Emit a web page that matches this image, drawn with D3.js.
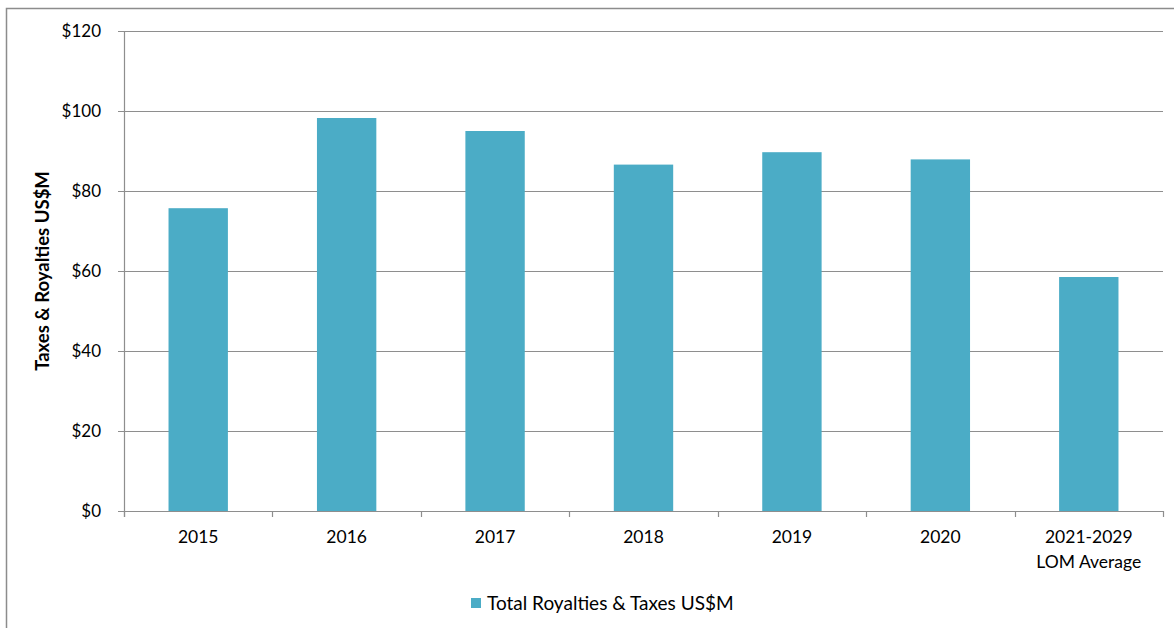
<!DOCTYPE html>
<html>
<head>
<meta charset="utf-8">
<script src="https://cdn.jsdelivr.net/npm/d3@7"></script>
<style>
  body { margin: 0; background: #fff; }
  svg { display: block; font-family: Lato, "Open Sans", sans-serif; }
</style>
</head>
<body>
<div class="chart"></div>
<script>
// chart data
const categories = ["2015", "2016", "2017", "2018", "2019", "2020", "2021-2029\nLOM Average"];
const royalties = [75.7, 98.25, 95, 86.6, 89.7, 87.9, 58.5];
const yTicks = [0, 20, 40, 60, 80, 100, 120];
const seriesName = "Total Royalties & Taxes US$M";
const yTitle = "Taxes & Royalties US$M";

const W = 1174, H = 628;
const margin = { top: 31, right: 11, bottom: 117, left: 124 };
const width = W - margin.left - margin.right;
const height = H - margin.top - margin.bottom;

const svg = d3.select(".chart").append("svg")
  .attr("width", W)
  .attr("height", H);

// outer frame (only left and top edges visible)
svg.append("path")
  .attr("d", `M6.5,${H} V8.5 H${W}`)
  .attr("fill", "none")
  .attr("stroke", "#8c8c8c")
  .attr("stroke-width", 1.5);

const g = svg.append("g")
  .attr("transform", `translate(${margin.left},${margin.top})`);

const x = d3.scaleBand()
  .domain(categories)
  .range([0, width])
  .paddingInner(0.6)
  .paddingOuter(0.3);

const y = d3.scaleLinear()
  .domain([0, 120])
  .range([height, 0]);

// gridlines
g.selectAll(".grid")
  .data(yTicks)
  .enter().append("line")
  .attr("x1", -6)
  .attr("x2", width)
  .attr("y1", d => y(d) + 0.5)
  .attr("y2", d => y(d) + 0.5)
  .attr("stroke", "#8e8e8e")
  .attr("stroke-width", 1.2);

// bars
g.selectAll(".bar")
  .data(royalties)
  .enter().append("rect")
  .attr("x", (d, i) => x(categories[i]))
  .attr("y", d => y(d))
  .attr("width", x.bandwidth())
  .attr("height", d => height - y(d))
  .attr("fill", "#4bacc6");

// y axis line
g.append("line")
  .attr("x1", 0.5).attr("x2", 0.5)
  .attr("y1", 0).attr("y2", height + 6)
  .attr("stroke", "#8e8e8e")
  .attr("stroke-width", 1.2);

// x axis category ticks
const step = x.step();
g.selectAll(".xtick")
  .data(d3.range(categories.length + 1))
  .enter().append("line")
  .attr("x1", i => Math.round(i * step) + 0.5)
  .attr("x2", i => Math.round(i * step) + 0.5)
  .attr("y1", height)
  .attr("y2", height + 6)
  .attr("stroke", "#8e8e8e")
  .attr("stroke-width", 1.2);

// y tick labels
g.selectAll(".ylabel")
  .data(yTicks)
  .enter().append("text")
  .attr("x", -23)
  .attr("y", d => y(d))
  .attr("dy", "0.35em")
  .attr("text-anchor", "end")
  .attr("font-size", 17)
  .attr("fill", "#000")
  .text(d => "$" + d);

// x labels
g.selectAll(".xlabel")
  .data(categories)
  .enter().append("text")
  .attr("text-anchor", "middle")
  .attr("font-size", 17.5)
  .attr("fill", "#000")
  .attr("transform", d => `translate(${x(d) + x.bandwidth() / 2},${height + 32})`)
  .each(function(d) {
    d.split("\n").forEach((line, k) => {
      d3.select(this).append("tspan")
        .attr("x", 0)
        .attr("y", k * 25)
        .text(line);
    });
  });

// y axis title
svg.append("text")
  .attr("transform", `translate(49,${margin.top + height / 2}) rotate(-90)`)
  .attr("text-anchor", "middle")
  .attr("font-size", 18.5)
  .attr("font-weight", "bold")
  .attr("fill", "#000")
  .text(yTitle);

// legend
const legend = svg.append("g").attr("transform", "translate(471,598)");
legend.append("rect")
  .attr("width", 10).attr("height", 10)
  .attr("fill", "#4bacc6");
legend.append("text")
  .attr("x", 16)
  .attr("y", 5)
  .attr("dy", "0.35em")
  .attr("font-size", 19)
  .attr("fill", "#000")
  .text(seriesName);
</script>
</body>
</html>
